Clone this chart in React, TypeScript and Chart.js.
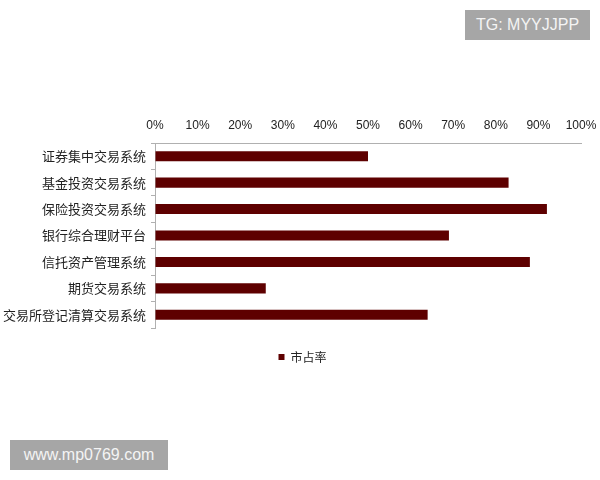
import React, { useEffect, useRef } from "react";
import { Chart, registerables } from "chart.js";

Chart.register(...registerables);

const categories = [
  "证券集中交易系统",
  "基金投资交易系统",
  "保险投资交易系统",
  "银行综合理财平台",
  "信托资产管理系统",
  "期货交易系统",
  "交易所登记清算交易系统",
];
const marketShare = [50, 83, 92, 69, 88, 26, 64];
const seriesName = "市占率";
const tickValues = [0, 10, 20, 30, 40, 50, 60, 70, 80, 90, 100];

const legendShift = {
  id: "legendShift",
  afterLayout(chart: any) {
    if (chart.legend) {
      chart.legend.left += 12;
      chart.legend.right += 12;
    }
  },
};

export default function App() {
  const ref = useRef<HTMLCanvasElement | null>(null);
  useEffect(() => {
    if (!ref.current) return;
    const chart = new Chart(ref.current, {
      type: "bar",
      data: {
        labels: categories,
        datasets: [
          {
            label: seriesName,
            data: marketShare,
            backgroundColor: "#5e0000",
            borderWidth: 0,
            categoryPercentage: 1,
            barPercentage: 0.38,
          },
        ],
      },
      plugins: [legendShift],
      options: {
        indexAxis: "y",
        responsive: false,
        animation: false,
        layout: { padding: { top: 100, left: 0, right: 19, bottom: 107 } },
        plugins: {
          tooltip: { enabled: false },
          legend: {
            position: "bottom",
            labels: {
              usePointStyle: true,
              pointStyle: "rect",
              boxWidth: 6,
              boxHeight: 6,
              padding: 23,
              color: "#222",
              font: { family: "'Noto Sans CJK SC'", size: 12 },
            },
          },
        },
        scales: {
          x: {
            position: "top",
            min: 0,
            max: 100,
            afterFit: (s: any) => {
              s.height = 43;
              s.paddingRight = 0;
              s.paddingLeft = 0;
            },
            afterBuildTicks: (s: any) => {
              s.ticks = tickValues.map((v) => ({ value: v }));
            },
            grid: { drawOnChartArea: false, drawTicks: false },
            border: { display: true, color: "#b0b0b0", width: 1 },
            ticks: {
              padding: 10,
              color: "#222",
              font: { family: "'Liberation Sans'", size: 12 },
              callback: (v: any) => v + "%",
              maxRotation: 0,
            },
          },
          y: {
            afterFit: (s: any) => {
              s.width = 155;
            },
            grid: {
              drawOnChartArea: false,
              drawTicks: true,
              tickLength: 4,
              color: "#b0b0b0",
              offset: true,
            },
            border: { display: true, color: "#b0b0b0", width: 1 },
            ticks: {
              padding: 5,
              color: "#222",
              font: { family: "'Noto Sans CJK SC'", size: 13 },
            },
          },
        },
      },
    });
    return () => chart.destroy();
  }, []);

  const badge: React.CSSProperties = {
    position: "absolute",
    background: "#a6a6a6",
    color: "#f4f4f4",
    fontFamily: "'Liberation Sans', Arial, sans-serif",
    fontSize: 16,
    height: 30,
    lineHeight: "30px",
    textAlign: "center",
  };

  return (
    <div style={{ position: "fixed", left: 0, top: 0, width: 600, height: 480, background: "#fff" }}>
      <canvas ref={ref} width={600} height={480} style={{ position: "absolute", left: 0, top: 0 }} />
      <div style={{ ...badge, left: 465, top: 10, width: 125 }}>TG: MYYJJPP</div>
      <div style={{ ...badge, left: 10, top: 440, width: 158 }}>www.mp0769.com</div>
    </div>
  );
}
